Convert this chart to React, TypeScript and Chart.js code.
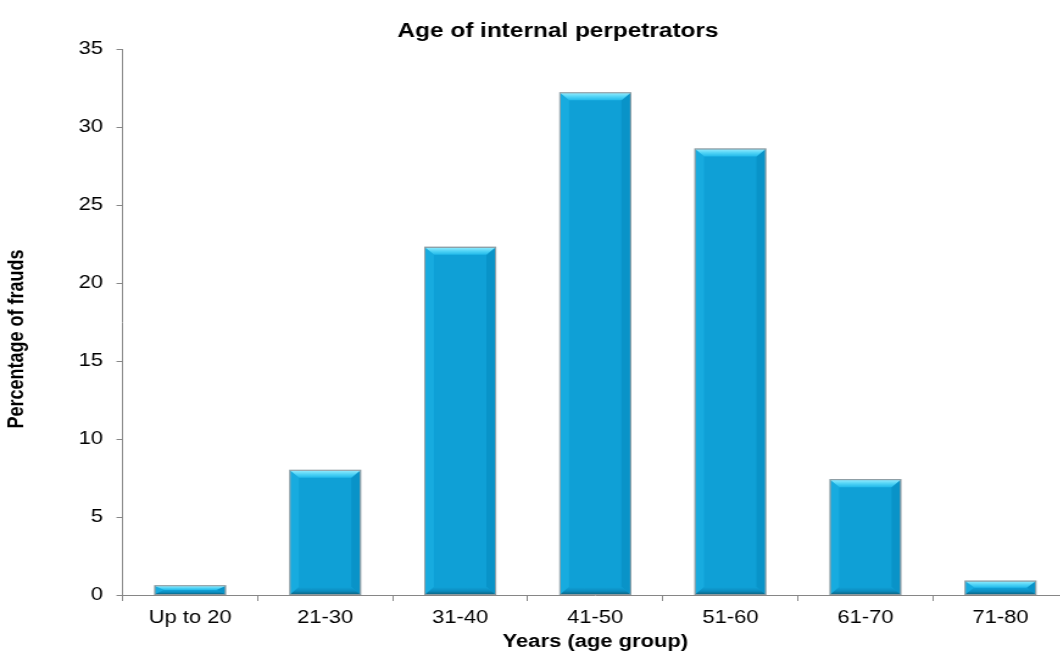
import React, { useEffect, useRef } from "react";
import { Chart, registerables } from "chart.js";

Chart.register(...registerables);

// ---- data ----
const categories = ["Up to 20", "21-30", "31-40", "41-50", "51-60", "61-70", "71-80"];
const percentages = [0.6, 8.0, 22.3, 32.2, 28.6, 7.4, 0.9];
const yTicks = [0, 5, 10, 15, 20, 25, 30, 35];
const chartTitle = "Age of internal perpetrators";
const xTitle = "Years (age group)";
const yTitle = "Percentage of frauds";

// ---- drawing setup (the reference is horizontally stretched) ----
const LOGICAL_W = 886;
const CSS_W = 1080;
const H = 664;
const SX = CSS_W / LOGICAL_W;
const FONT = "'Liberation Sans', Arial, Helvetica, sans-serif";

const bevelPlugin = {
  id: "bevel",
  afterDatasetsDraw(chart: any) {
    const ctx = chart.ctx;
    const meta = chart.getDatasetMeta(0);
    meta.data.forEach((el: any) => {
      const { x, y, base, width } = el.getProps(["x", "y", "base", "width"], true);
      const L = x - width / 2 + 0.6;
      const R = x + width / 2 - 0.6;
      const T = y + 0.6;
      const B = base - 0.6;
      const hgt = B - T;
      if (hgt <= 0) return;
      const h = Math.min(7, hgt / 2);
      const i = 7;
      ctx.save();
      // left side
      ctx.fillStyle = "#17abdf";
      ctx.beginPath();
      ctx.moveTo(L, T); ctx.lineTo(L + i, T + h); ctx.lineTo(L + i, B - h); ctx.lineTo(L, B); ctx.closePath(); ctx.fill();
      // right side
      ctx.fillStyle = "#0993c8";
      ctx.beginPath();
      ctx.moveTo(R, T); ctx.lineTo(R - i, T + h); ctx.lineTo(R - i, B - h); ctx.lineTo(R, B); ctx.closePath(); ctx.fill();
      // bottom
      const gb = ctx.createLinearGradient(0, B - h, 0, B);
      gb.addColorStop(0, "#10a2d8");
      gb.addColorStop(0.6, "#0b8cbf");
      gb.addColorStop(1, "#0a6a8c");
      ctx.fillStyle = gb;
      ctx.beginPath();
      ctx.moveTo(L, B); ctx.lineTo(R, B); ctx.lineTo(R - i, B - h); ctx.lineTo(L + i, B - h); ctx.closePath(); ctx.fill();
      // top
      const gt = ctx.createLinearGradient(0, T, 0, T + h);
      gt.addColorStop(0, "#8ee9fd");
      gt.addColorStop(0.5, "#4fd3f6");
      gt.addColorStop(1, "#22b9ea");
      ctx.fillStyle = gt;
      ctx.beginPath();
      ctx.moveTo(L, T); ctx.lineTo(R, T); ctx.lineTo(R - i, T + h); ctx.lineTo(L + i, T + h); ctx.closePath(); ctx.fill();
      // outline
      ctx.strokeStyle = "#8a9ba2";
      ctx.lineWidth = 1;
      ctx.strokeRect(x - width / 2, y, width, base - y);
      ctx.restore();
    });
  },
};

const textPlugin = {
  id: "extraText",
  afterDraw(chart: any) {
    const ctx = chart.ctx;
    ctx.save();
    ctx.fillStyle = "#000";
    ctx.textAlign = "center";
    ctx.textBaseline = "middle";
    ctx.font = `bold 20px ${FONT}`;
    ctx.fillText(chartTitle, 558 / SX, 31);
    ctx.font = `bold 18px ${FONT}`;
    ctx.translate(17 / SX, 339);
    ctx.rotate(-Math.PI / 2);
    ctx.fillText(yTitle, 0, 0);
    ctx.restore();
  },
};

export default function App() {
  const ref = useRef<HTMLCanvasElement | null>(null);
  useEffect(() => {
    if (!ref.current) return;
    const chart = new Chart(ref.current, {
      type: "bar",
      data: {
        labels: categories,
        datasets: [
          {
            data: percentages,
            backgroundColor: "#0fa0d6",
            borderColor: "#8a9ba2",
            borderWidth: 1,
            categoryPercentage: 1,
            barPercentage: 0.525,
          },
        ],
      },
      options: {
        responsive: false,
        animation: false,
        devicePixelRatio: 1,
        layout: { padding: { top: 49, right: LOGICAL_W - 1068 / SX, bottom: 0, left: 0 } },
        plugins: {
          legend: { display: false },
          title: { display: false },
          tooltip: { enabled: false },
        },
        scales: {
          x: {
            grid: {
              display: true,
              drawOnChartArea: false,
              drawTicks: true,
              tickLength: 6,
              color: "#868686",
              offset: true,
            },
            border: { display: true, color: "#868686", width: 1 },
            ticks: {
              color: "#000",
              font: { size: 18, family: FONT },
              padding: 6,
              maxRotation: 0,
              autoSkip: false,
            },
            title: {
              display: true,
              text: xTitle,
              color: "#000",
              font: { size: 18, weight: "bold", family: FONT },
              padding: { top: 0, bottom: 11 },
            },
            afterFit: (s: any) => {
              s.height = 69;
            },
          },
          y: {
            min: 0,
            max: 35,
            afterBuildTicks: (s: any) => {
              s.ticks = yTicks.map((v) => ({ value: v }));
            },
            grid: {
              display: true,
              drawOnChartArea: false,
              drawTicks: true,
              tickLength: 5,
              color: "#868686",
            },
            border: { display: true, color: "#868686", width: 1 },
            ticks: {
              color: "#000",
              font: { size: 18, family: FONT },
              padding: 11,
            },
            afterFit: (s: any) => {
              s.width = 122.6 / SX;
            },
          },
        },
      },
      plugins: [bevelPlugin, textPlugin],
    });
    return () => chart.destroy();
  }, []);

  return (
    <div
      style={{
        position: "fixed",
        left: 0,
        top: 0,
        width: 1060,
        height: H,
        overflow: "hidden",
        background: "#fff",
      }}
    >
      <canvas
        ref={ref}
        width={LOGICAL_W}
        height={H}
        style={{ width: CSS_W + "px", height: H + "px", display: "block" }}
      />
    </div>
  );
}
